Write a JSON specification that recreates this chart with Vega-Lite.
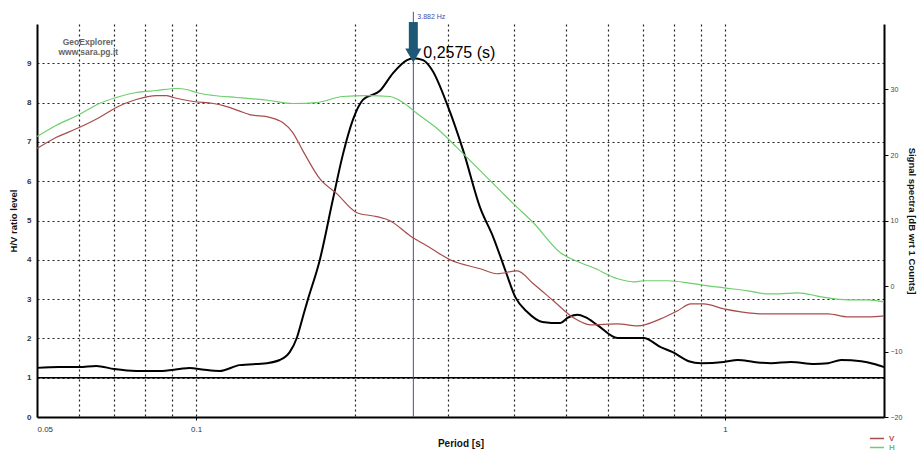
{
  "$schema": "https://vega.github.io/schema/vega-lite/v6.json",
  "width": 847,
  "height": 393,
  "autosize": {"type": "none"},
  "padding": {"left": 37, "top": 24, "right": 37, "bottom": 50},
  "background": "white",
  "config": {
    "view": {"stroke": null},
    "font": "Liberation Sans",
    "axis": {"labelFont": "Liberation Sans", "titleFont": "Liberation Sans"},
    "legend": {"labelFont": "Liberation Sans"}
  },
  "datasets": {
    "hv": [
      {"p": 0.05, "v": 1.25}, {"p": 0.055, "v": 1.27}, {"p": 0.0601, "v": 1.27}, {"p": 0.0647, "v": 1.30},
      {"p": 0.07, "v": 1.22}, {"p": 0.077, "v": 1.17}, {"p": 0.0852, "v": 1.17}, {"p": 0.093, "v": 1.22},
      {"p": 0.0971, "v": 1.25}, {"p": 0.1037, "v": 1.20}, {"p": 0.1107, "v": 1.17}, {"p": 0.1208, "v": 1.32},
      {"p": 0.1359, "v": 1.37}, {"p": 0.1439, "v": 1.45}, {"p": 0.1503, "v": 1.65}, {"p": 0.155, "v": 2.01},
      {"p": 0.1591, "v": 2.54}, {"p": 0.1626, "v": 2.98}, {"p": 0.1713, "v": 3.99}, {"p": 0.1813, "v": 5.52},
      {"p": 0.1894, "v": 6.67}, {"p": 0.1979, "v": 7.56}, {"p": 0.2067, "v": 8.07}, {"p": 0.2226, "v": 8.30},
      {"p": 0.2357, "v": 8.75}, {"p": 0.2505, "v": 9.08}, {"p": 0.2575, "v": 9.13}, {"p": 0.2687, "v": 9.08},
      {"p": 0.2794, "v": 8.83}, {"p": 0.2996, "v": 7.89}, {"p": 0.3198, "v": 6.79}, {"p": 0.3446, "v": 5.32},
      {"p": 0.3646, "v": 4.58}, {"p": 0.3842, "v": 3.74}, {"p": 0.4015, "v": 3.05}, {"p": 0.423, "v": 2.67},
      {"p": 0.4517, "v": 2.42}, {"p": 0.4887, "v": 2.39}, {"p": 0.5039, "v": 2.52}, {"p": 0.5263, "v": 2.60},
      {"p": 0.5448, "v": 2.54}, {"p": 0.5741, "v": 2.34}, {"p": 0.6267, "v": 2.01}, {"p": 0.7022, "v": 2.01},
      {"p": 0.756, "v": 1.78}, {"p": 0.7968, "v": 1.65}, {"p": 0.8545, "v": 1.42}, {"p": 0.9006, "v": 1.37},
      {"p": 0.9956, "v": 1.40}, {"p": 1.0584, "v": 1.45}, {"p": 1.135, "v": 1.40}, {"p": 1.2224, "v": 1.37},
      {"p": 1.3341, "v": 1.40}, {"p": 1.4748, "v": 1.35}, {"p": 1.5677, "v": 1.37}, {"p": 1.6596, "v": 1.45},
      {"p": 1.8112, "v": 1.42}, {"p": 1.9169, "v": 1.35}, {"p": 2.0, "v": 1.27}
    ],
    "spec": [
      {"s": "V", "p": 0.05, "db": 20.98}, {"s": "V", "p": 0.0543, "db": 22.66}, {"s": "V", "p": 0.0601, "db": 24.19},
      {"s": "V", "p": 0.0656, "db": 25.72}, {"s": "V", "p": 0.0706, "db": 27.25}, {"s": "V", "p": 0.077, "db": 28.47},
      {"s": "V", "p": 0.0841, "db": 29.08}, {"s": "V", "p": 0.0878, "db": 29.08}, {"s": "V", "p": 0.0905, "db": 28.78},
      {"s": "V", "p": 0.0988, "db": 28.17}, {"s": "V", "p": 0.1078, "db": 27.86}, {"s": "V", "p": 0.1126, "db": 27.55},
      {"s": "V", "p": 0.1229, "db": 26.48}, {"s": "V", "p": 0.1262, "db": 26.17}, {"s": "V", "p": 0.1377, "db": 25.75},
      {"s": "V", "p": 0.1458, "db": 24.95}, {"s": "V", "p": 0.1523, "db": 23.43}, {"s": "V", "p": 0.1591, "db": 20.67},
      {"s": "V", "p": 0.1713, "db": 16.39}, {"s": "V", "p": 0.1845, "db": 14.10}, {"s": "V", "p": 0.2014, "db": 11.19},
      {"s": "V", "p": 0.2197, "db": 10.58}, {"s": "V", "p": 0.2326, "db": 9.97}, {"s": "V", "p": 0.2538, "db": 7.68},
      {"s": "V", "p": 0.277, "db": 5.84}, {"s": "V", "p": 0.3022, "db": 4.01}, {"s": "V", "p": 0.3446, "db": 2.63},
      {"s": "V", "p": 0.371, "db": 1.87}, {"s": "V", "p": 0.405, "db": 2.32}, {"s": "V", "p": 0.4343, "db": 0.34},
      {"s": "V", "p": 0.4739, "db": -2.26}, {"s": "V", "p": 0.5172, "db": -4.86}, {"s": "V", "p": 0.5568, "db": -5.93},
      {"s": "V", "p": 0.6267, "db": -5.78}, {"s": "V", "p": 0.684, "db": -6.09}, {"s": "V", "p": 0.756, "db": -5.02},
      {"s": "V", "p": 0.8143, "db": -3.79}, {"s": "V", "p": 0.862, "db": -2.72}, {"s": "V", "p": 0.9124, "db": -2.72},
      {"s": "V", "p": 0.9956, "db": -3.49}, {"s": "V", "p": 1.0724, "db": -3.94}, {"s": "V", "p": 1.1856, "db": -4.25},
      {"s": "V", "p": 1.3167, "db": -4.25}, {"s": "V", "p": 1.5677, "db": -4.25}, {"s": "V", "p": 1.7112, "db": -4.71},
      {"s": "V", "p": 1.8672, "db": -4.71}, {"s": "V", "p": 2.0, "db": -4.56},
      {"s": "H", "p": 0.05, "db": 22.81}, {"s": "H", "p": 0.0543, "db": 24.50}, {"s": "H", "p": 0.0601, "db": 26.18},
      {"s": "H", "p": 0.0656, "db": 27.86}, {"s": "H", "p": 0.0706, "db": 28.78}, {"s": "H", "p": 0.077, "db": 29.54},
      {"s": "H", "p": 0.0841, "db": 29.85}, {"s": "H", "p": 0.0918, "db": 30.15}, {"s": "H", "p": 0.0959, "db": 30.0},
      {"s": "H", "p": 0.1001, "db": 29.54}, {"s": "H", "p": 0.1078, "db": 29.08}, {"s": "H", "p": 0.1193, "db": 28.78},
      {"s": "H", "p": 0.1262, "db": 28.62}, {"s": "H", "p": 0.1377, "db": 28.32}, {"s": "H", "p": 0.1523, "db": 27.86},
      {"s": "H", "p": 0.1691, "db": 28.01}, {"s": "H", "p": 0.1894, "db": 28.93}, {"s": "H", "p": 0.2104, "db": 29.08},
      {"s": "H", "p": 0.2326, "db": 28.93}, {"s": "H", "p": 0.2462, "db": 28.01}, {"s": "H", "p": 0.2617, "db": 26.33},
      {"s": "H", "p": 0.2856, "db": 24.04}, {"s": "H", "p": 0.3115, "db": 21.13}, {"s": "H", "p": 0.3401, "db": 18.07},
      {"s": "H", "p": 0.3759, "db": 14.56}, {"s": "H", "p": 0.398, "db": 12.57}, {"s": "H", "p": 0.4343, "db": 9.66},
      {"s": "H", "p": 0.4887, "db": 5.08}, {"s": "H", "p": 0.5332, "db": 3.55}, {"s": "H", "p": 0.5642, "db": 2.78},
      {"s": "H", "p": 0.6267, "db": 1.10}, {"s": "H", "p": 0.6721, "db": 0.64}, {"s": "H", "p": 0.7022, "db": 0.80},
      {"s": "H", "p": 0.7795, "db": 0.80}, {"s": "H", "p": 0.8507, "db": 0.49}, {"s": "H", "p": 0.9006, "db": 0.18},
      {"s": "H", "p": 0.9956, "db": -0.28}, {"s": "H", "p": 1.1055, "db": -0.73}, {"s": "H", "p": 1.2063, "db": -1.19},
      {"s": "H", "p": 1.2605, "db": -1.19}, {"s": "H", "p": 1.3752, "db": -1.04}, {"s": "H", "p": 1.5206, "db": -1.65},
      {"s": "H", "p": 1.7112, "db": -2.11}, {"s": "H", "p": 1.8672, "db": -2.11}, {"s": "H", "p": 2.0, "db": -2.42}
    ]
  },
  "layer": [
    {
      "layer": [
        {
          "data": {"name": "hv"},
          "mark": {"type": "line", "color": "black", "strokeWidth": 2, "interpolate": "monotone"},
          "encoding": {
            "x": {
              "field": "p", "type": "quantitative", "title": "Period [s]",
              "scale": {"type": "log", "domain": [0.05, 2], "nice": false},
              "axis": {
                "values": [0.05, 0.06, 0.07, 0.08, 0.09, 0.1, 0.2, 0.3, 0.4, 0.5, 0.6, 0.7, 0.8, 0.9, 1],
                "labelExpr": "datum.value == 0.05 ? '0.05' : (datum.value == 0.1 ? '0.1' : (datum.value == 1 ? '1' : ''))",
                "grid": true, "gridDash": [2, 3], "gridColor": "#222", "gridWidth": 1.2,
                "gridOpacity": {"condition": {"test": "datum.value == 0.05", "value": 0}, "value": 1},
                "tickSize": 3, "tickColor": "black",
                "tickOpacity": {"condition": {"test": "datum.value == 0.1 || datum.value == 1", "value": 1}, "value": 0},
                "domainColor": "black", "domainWidth": 2,
                "labelFontSize": 8, "labelColor": "#333", "labelPadding": 5, "labelFlush": true,
                "titleFontSize": 10, "titleFontWeight": "bold", "titleColor": "#111", "titlePadding": 5
              }
            },
            "y": {
              "field": "v", "type": "quantitative", "title": "H/V ratio level",
              "scale": {"domain": [0, 10], "nice": false},
              "axis": {
                "orient": "left", "values": [0, 1, 2, 3, 4, 5, 6, 7, 8, 9],
                "grid": true, "gridDash": [2, 3], "gridColor": "#222", "gridWidth": 1.2,
                "ticks": false, "labelPadding": 6, "labelFontSize": 8, "labelFontWeight": "bold", "labelColor": "#333",
                "domainColor": "black", "domainWidth": 2,
                "titleFontSize": 9.5, "titleFontWeight": "bold", "titleColor": "#111", "titlePadding": 8
              }
            }
          }
        },
        {
          "data": {"values": [{"v": 1}]},
          "mark": {"type": "rule", "color": "black", "strokeWidth": 1.5},
          "encoding": {"y": {"field": "v", "type": "quantitative", "title": "H/V ratio level"}}
        },
        {
          "data": {"values": [{"p": 0.2575, "v": 0, "v2": 10.31}]},
          "mark": {"type": "rule", "color": "#4a4aa8", "strokeWidth": 1},
          "encoding": {
            "x": {"field": "p", "type": "quantitative", "title": "Period [s]"},
            "y": {"field": "v", "type": "quantitative", "title": "H/V ratio level"},
            "y2": {"field": "v2"}
          }
        },
        {
          "data": {"values": [{"p": 0.2575, "v": 10.05, "v2": 9.29}]},
          "mark": {"type": "rule", "color": "#1d5877", "strokeWidth": 9},
          "encoding": {
            "x": {"field": "p", "type": "quantitative", "title": "Period [s]"},
            "y": {"field": "v", "type": "quantitative", "title": "H/V ratio level"},
            "y2": {"field": "v2"}
          }
        },
        {
          "data": {"values": [{"p": 0.2575, "v": 9.2}]},
          "mark": {"type": "point", "shape": "triangle-down", "filled": true, "size": 260, "color": "#1d5877", "opacity": 1},
          "encoding": {
            "x": {"field": "p", "type": "quantitative", "title": "Period [s]"},
            "y": {"field": "v", "type": "quantitative", "title": "H/V ratio level"}
          }
        },
        {
          "data": {"values": [{"p": 0.2575, "v": 10.18, "t": "3.882 Hz"}]},
          "mark": {"type": "text", "align": "left", "baseline": "middle", "dx": 4, "fontSize": 7, "color": "#4a4aa8"},
          "encoding": {
            "x": {"field": "p", "type": "quantitative", "title": "Period [s]"},
            "y": {"field": "v", "type": "quantitative", "title": "H/V ratio level"},
            "text": {"field": "t"}
          }
        },
        {
          "data": {"values": [{"p": 0.2575, "v": 9.26, "t": "0,2575 (s)"}]},
          "mark": {"type": "text", "align": "left", "baseline": "middle", "dx": 10, "fontSize": 16, "color": "black"},
          "encoding": {
            "x": {"field": "p", "type": "quantitative", "title": "Period [s]"},
            "y": {"field": "v", "type": "quantitative", "title": "H/V ratio level"},
            "text": {"field": "t"}
          }
        },
        {
          "data": {"values": [{"p": 0.0625, "v": 9.54, "t": "GeoExplorer"}, {"p": 0.0625, "v": 9.29, "t": "www.sara.pg.it"}]},
          "mark": {"type": "text", "align": "center", "baseline": "middle", "fontSize": 8.5, "fontWeight": "bold", "color": "#666"},
          "encoding": {
            "x": {"field": "p", "type": "quantitative", "title": "Period [s]"},
            "y": {"field": "v", "type": "quantitative", "title": "H/V ratio level"},
            "text": {"field": "t"}
          }
        }
      ]
    },
    {
      "data": {"name": "spec"},
      "mark": {"type": "line", "strokeWidth": 1.2, "interpolate": "monotone"},
      "encoding": {
        "x": {"field": "p", "type": "quantitative", "title": "Period [s]"},
        "y": {
          "field": "db", "type": "quantitative", "title": "Signal spectra [dB wrt 1 Counts]",
          "scale": {"domain": [-20, 40], "nice": false},
          "axis": {
            "orient": "right", "values": [-20, -10, 0, 10, 20, 30], "grid": false,
            "tickSize": 4, "tickColor": "black", "labelPadding": 2, "labelFontSize": 7, "labelColor": "#444",
            "domainColor": "black", "domainWidth": 2,
            "titleFontSize": 9.5, "titleFontWeight": "bold", "titleColor": "#111", "titlePadding": 5
          }
        },
        "color": {
          "field": "s", "type": "nominal",
          "scale": {"domain": ["V", "H"], "range": ["#a84c4c", "#6ccf6c"]},
          "legend": {
            "orient": "none", "legendX": 832, "legendY": 410, "title": null,
            "symbolType": "stroke", "symbolSize": 200, "symbolStrokeWidth": 1.5,
            "labelFontSize": 8, "labelFontWeight": "bold", "clipHeight": 9, "rowPadding": 0, "padding": 0, "labelOffset": 4,
            "encode": {"labels": {"update": {"fill": {"signal": "datum.label == 'V' ? '#b84a4a' : '#5ccc5c'"}}}}
          }
        }
      }
    }
  ],
  "resolve": {"scale": {"y": "independent"}}
}
